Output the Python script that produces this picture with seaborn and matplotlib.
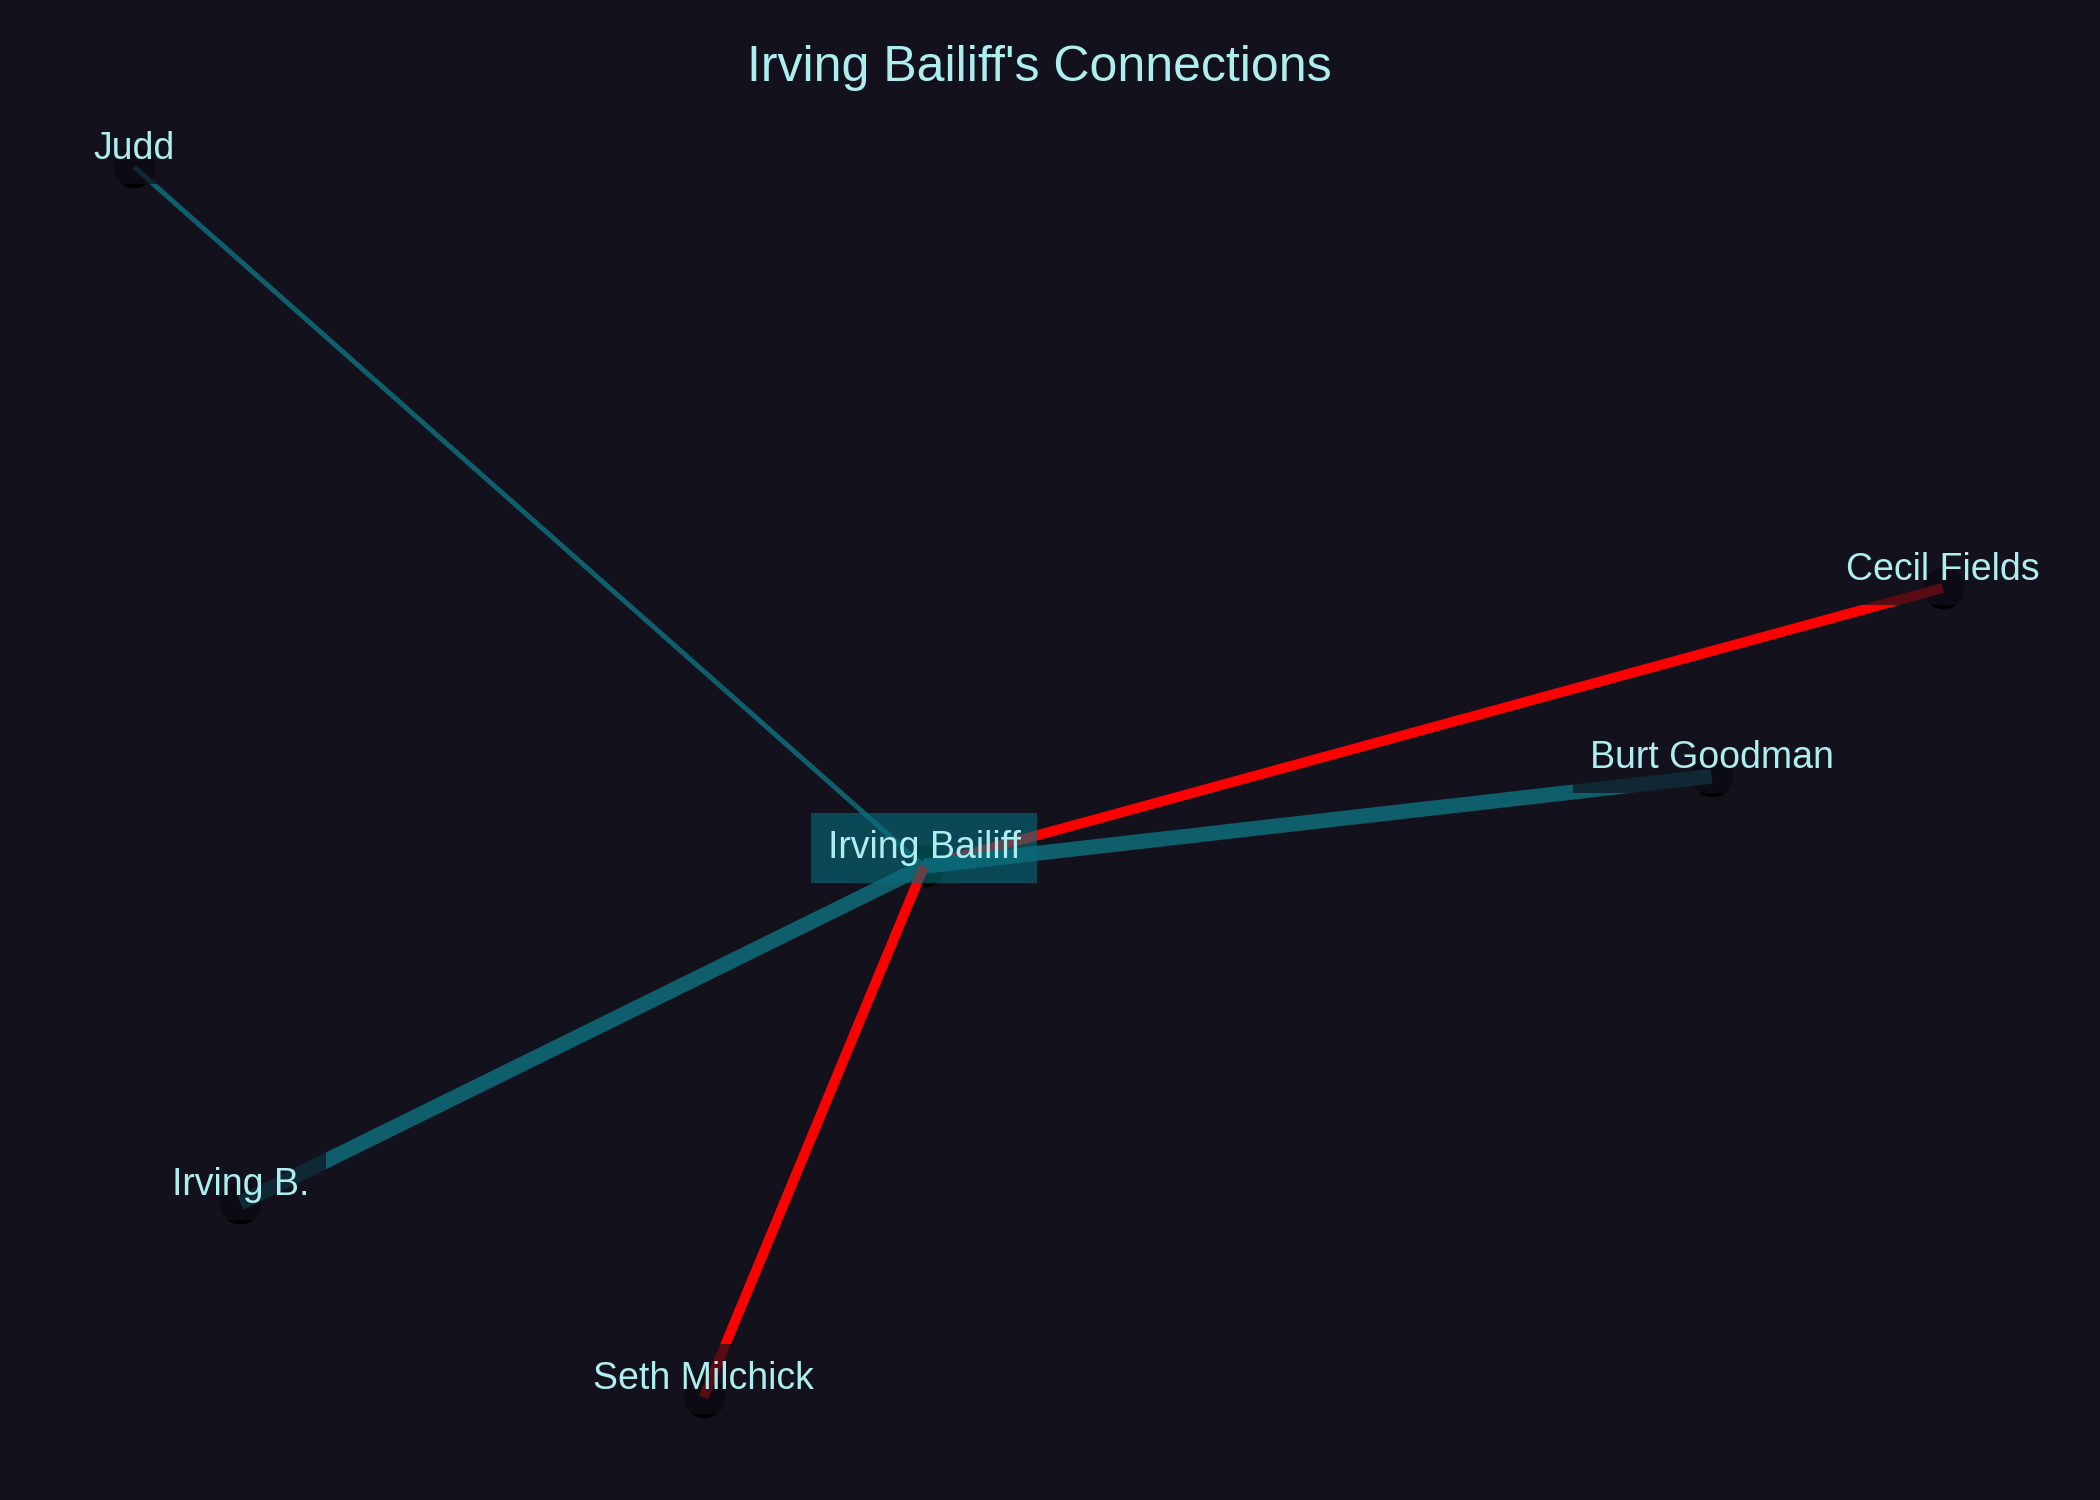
import matplotlib
matplotlib.use("Agg")
import matplotlib.pyplot as plt
import seaborn as sns
import pandas as pd

# Nodes of the network (layout positions, -1..1 on both axes)
center = "Irving Bailiff"
center_x = -0.12
center_y = -0.155

names = ["Judd", "Cecil Fields", "Burt Goodman", "Irving B.", "Seth Milchick"]
pos_x = [-0.872, 0.850, 0.630, -0.771, -0.330]
pos_y = [0.777, 0.216, -0.035, -0.604, -0.863]

# Edge attributes: strength of the tie and kind of relation
weights = [1, 2, 3, 3, 2]
relation = ["ally", "enemy", "ally", "ally", "enemy"]

bg = "#12111c"
txt = "#aeeef0"
rel_colors = {"ally": "#0e5e6c", "enemy": "#ff0000"}

sns.set_theme(style="dark", rc={"axes.facecolor": bg, "figure.facecolor": bg})
plt.rcParams["font.family"] = ["Liberation Sans", "DejaVu Sans"]

nodes = pd.DataFrame({"name": [center] + names,
                      "x": [center_x] + pos_x,
                      "y": [center_y] + pos_y})

fig = plt.figure(figsize=(14, 10), dpi=150)
ax = fig.add_axes([0, 0, 1, 1])
ax.set_xlim(-1, 1)
ax.set_ylim(-1, 1)

# nodes
sns.scatterplot(data=nodes, x="x", y="y", color="black", s=400,
                linewidth=0, ax=ax, zorder=1)

# edges
for i in range(len(names)):
    ax.plot([center_x, pos_x[i]], [center_y, pos_y[i]],
            color=rel_colors[relation[i]], lw=weights[i] * 2.4,
            solid_capstyle="butt", zorder=2)

# labels
ax.annotate(center, (center_x, center_y), xytext=(0, 4), textcoords="offset points",
            ha="center", va="baseline", fontsize=18, color=txt, zorder=3,
            bbox=dict(boxstyle="square,pad=0.45", fc="#086b79", ec="none", alpha=0.62))
for i, n in enumerate(names):
    ax.annotate(n, (pos_x[i], pos_y[i]), xytext=(0, 4), textcoords="offset points",
                ha="center", va="baseline", fontsize=18, color=txt, zorder=4,
                bbox=dict(boxstyle="square,pad=0.45", fc=bg, ec="none", alpha=0.7))

ax.set_axis_off()
fig.text(0.495, 1 - 68 / 1500, "Irving Bailiff's Connections", ha="center", va="center",
         fontsize=24, color=txt)

fig.savefig("out.png", dpi=150, facecolor=bg)
